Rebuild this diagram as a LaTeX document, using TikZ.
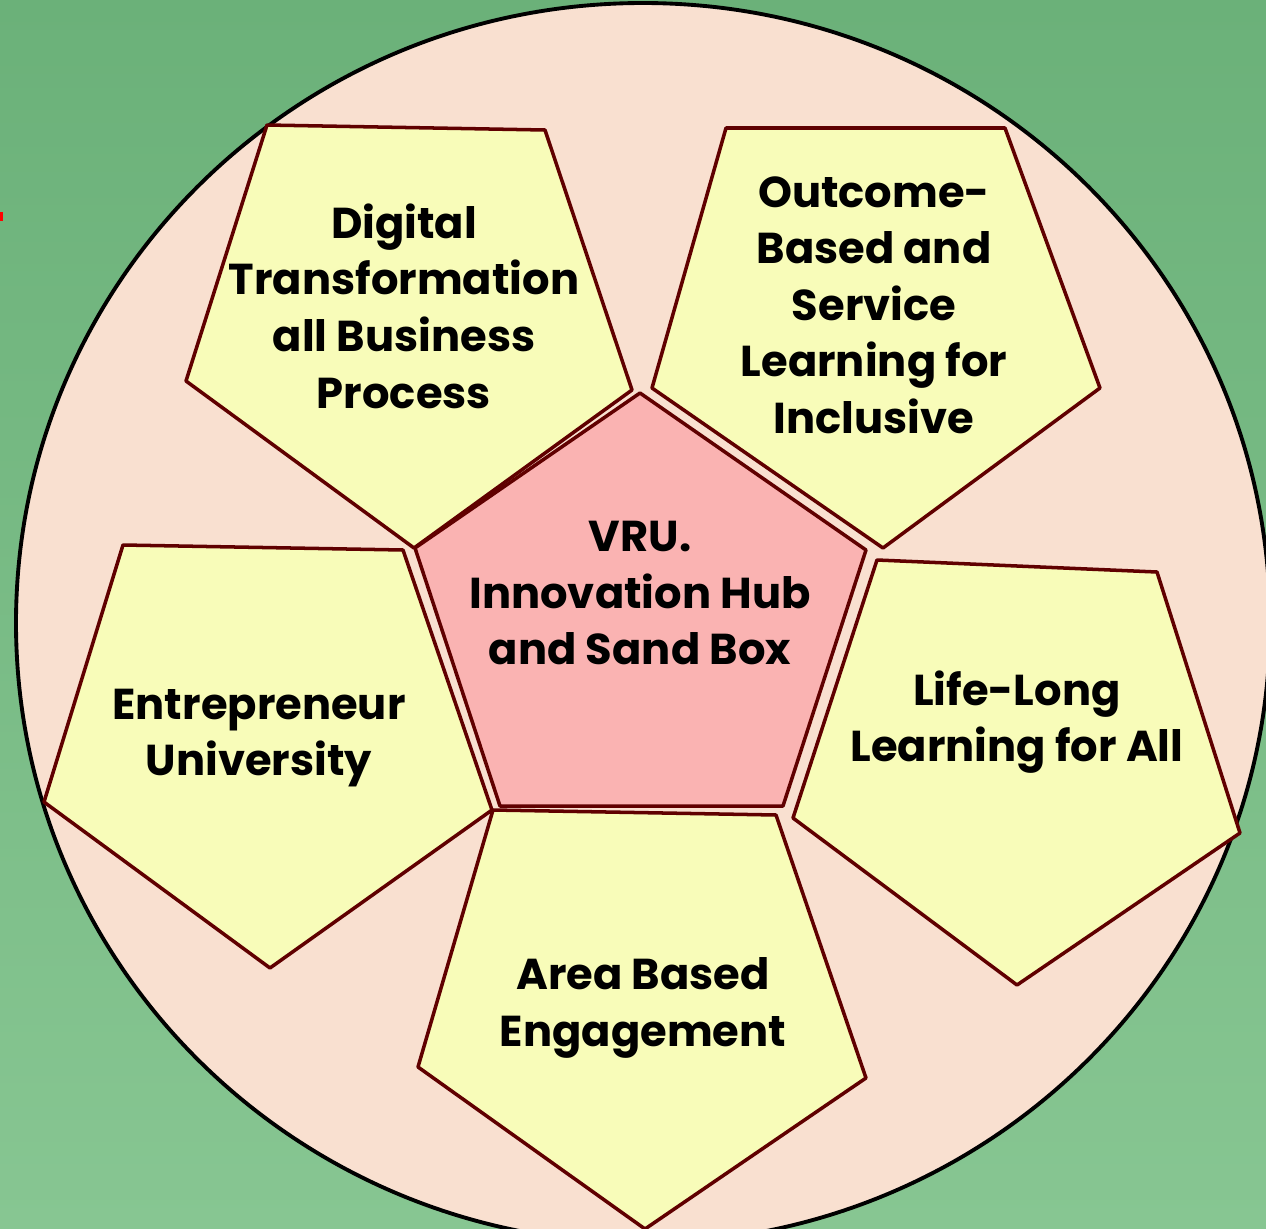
\documentclass[tikz,border=0pt]{standalone}
\usepackage{fontspec}
\setmainfont{Poppins}
\usepackage{tikz}
\usepackage{tkz-euclide}

\definecolor{bgtop}{RGB}{107,177,121}
\definecolor{bgbot}{RGB}{135,198,146}
\definecolor{ballpeach}{RGB}{249,224,208}
\definecolor{padyellow}{RGB}{248,252,185}
\definecolor{hubpink}{RGB}{250,179,178}
\definecolor{rimred}{RGB}{96,0,0}

\begin{document}
\begin{tikzpicture}[%
  pent/.style = {draw=rimred, line width=1pt, fill=padyellow},
  hub/.style  = {draw=rimred, line width=1pt, fill=hubpink},
  txt/.style  = {align=center, font=\bfseries\fontsize{12.3}{16.1}\selectfont},
]
  \useasboundingbox (0,0) rectangle (12.66,-12.29);
  \shade[top color=bgtop, bottom color=bgbot] (0,0) rectangle (12.66,-12.29);
  \fill[red] (0,-2.12) rectangle (0.03,-2.21);

  \draw[line width=1.1pt, fill=ballpeach] (6.43,-6.23) ellipse [x radius=6.27, y radius=6.20];

  % digital
  \tkzDefPoint(2.67,-1.25){D1}
  \tkzDefPoint(5.45,-1.30){D2}
  \tkzDefPoint(6.32,-3.90){D3}
  \tkzDefPoint(4.14,-5.48){D4}
  \tkzDefPoint(1.86,-3.81){D5}

  % outcome
  \tkzDefPoint(7.26,-1.28){O1}
  \tkzDefPoint(10.05,-1.28){O2}
  \tkzDefPoint(11.00,-3.88){O3}
  \tkzDefPoint(8.83,-5.48){O4}
  \tkzDefPoint(6.52,-3.88){O5}

  % hub
  \tkzDefPoint(6.40,-3.93){V1}
  \tkzDefPoint(8.66,-5.50){V2}
  \tkzDefPoint(7.83,-8.06){V3}
  \tkzDefPoint(5.00,-8.06){V4}
  \tkzDefPoint(4.15,-5.48){V5}

  % life-long
  \tkzDefPoint(8.77,-5.60){L1}
  \tkzDefPoint(11.57,-5.72){L2}
  \tkzDefPoint(12.40,-8.33){L3}
  \tkzDefPoint(10.17,-9.85){L4}
  \tkzDefPoint(7.93,-8.18){L5}

  % area
  \tkzDefPoint(4.93,-8.10){A1}
  \tkzDefPoint(7.76,-8.15){A2}
  \tkzDefPoint(8.66,-10.78){A3}
  \tkzDefPoint(6.45,-12.29){A4}
  \tkzDefPoint(4.18,-10.67){A5}

  % entrepreneur
  \tkzDefPoint(1.23,-5.45){E1}
  \tkzDefPoint(4.03,-5.50){E2}
  \tkzDefPoint(4.92,-8.10){E3}
  \tkzDefPoint(2.70,-9.68){E4}
  \tkzDefPoint(0.44,-8.02){E5}

  \tkzDrawPolygon[pent](D1,D2,D3,D4,D5)
  \tkzDrawPolygon[pent](O1,O2,O3,O4,O5)
  \tkzDrawPolygon[pent](L1,L2,L3,L4,L5)
  \tkzDrawPolygon[pent](A1,A2,A3,A4,A5)
  \tkzDrawPolygon[pent](E1,E2,E3,E4,E5)
  \tkzDrawPolygon[hub](V1,V2,V3,V4,V5)

  \node[txt] (digital) at (4.04,-3.06) {Digital\\Transformation\\all Business\\Process};
  \node[txt] (outcome) at (8.74,-3.05) {Outcome-\\Based and\\Service\\Learning for\\Inclusive};
  \node[txt] (vru)     at (6.40,-5.93) {VRU.\\Innovation Hub\\and Sand Box};
  \node[txt] (lifelong) at (10.17,-7.22) {Life-Long\\Learning for All};
  \node[txt] (entre)   at (2.59,-7.38) {Entrepreneur\\University};
  \node[txt] (area)    at (6.43,-10.08) {Area Based\\Engagement};

\end{tikzpicture}
\end{document}
